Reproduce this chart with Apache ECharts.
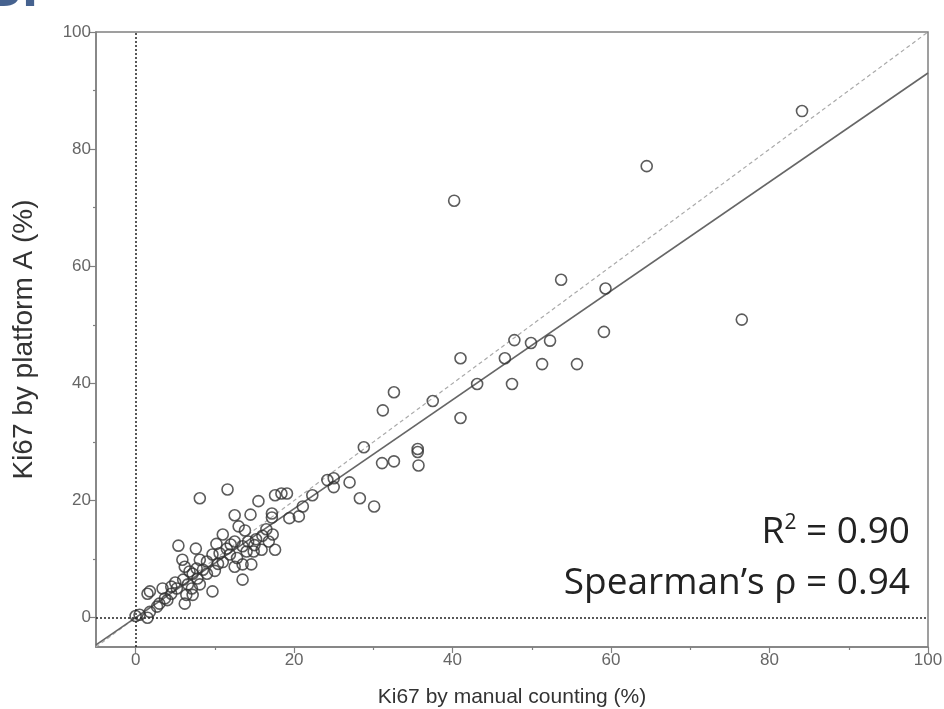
<!DOCTYPE html>
<html>
<head>
<meta charset="utf-8">
<script src="https://cdn.jsdelivr.net/npm/echarts@6/dist/echarts.min.js"></script>
<style>
html,body{margin:0;padding:0;background:#fff;}
#chart{width:944px;height:709px;}
</style>
</head>
<body>
<div id="chart"></div>
<script>
// Ki67 pairs: [manual counting %, platform A %]
var points = [
  [0,0.3],[0.5,0.5],[1.5,0],[1.8,1.0],[1.5,4.1],[1.8,4.5],[2.7,1.9],[3.0,2.4],[3.4,5.0],[3.7,3.3],
  [4.5,4.1],[4.5,5.3],[5.2,5.0],[5.4,12.3],[5.9,9.9],[6.2,2.4],[6.2,8.7],[6.4,3.9],[6.6,5.7],[6.8,7.9],
  [7.1,5.0],[7.2,3.9],[7.2,7.5],[7.6,11.8],[7.7,8.4],[7.8,6.7],[8.1,5.7],[8.1,9.9],[8.1,20.4],[9.0,9.6],
  [9.7,4.5],[9.7,10.8],[10.4,9.2],[10.6,11.0],[11.0,14.2],[11.5,11.8],[11.6,21.9],[11.9,10.8],[12.5,8.7],[12.5,13.0],
  [12.5,17.5],[13.5,9.1],[13.5,12.2],[13.5,6.5],[13.8,14.9],[14.0,11.3],[14.5,17.6],[14.6,9.1],[14.9,11.3],[15.2,13.4],
  [15.5,19.9],[15.9,11.6],[16.5,15.1],[17.2,17.8],[17.2,17.1],[17.3,14.2],[17.6,11.6],[17.6,20.9],[18.4,21.2],[19.1,21.2],
  [19.4,17.0],[20.6,17.3],[21.1,19.0],[22.3,20.9],[24.2,23.5],[25.0,23.8],[25.0,22.3],[27.0,23.1],[28.3,20.4],[28.8,29.1],
  [30.1,19.0],[31.1,26.4],[31.2,35.4],[32.6,26.7],[32.6,38.5],[35.6,28.8],[35.6,28.3],[35.7,26.0],[37.5,37.0],[40.2,71.2],
  [41.0,44.3],[41.0,34.1],[43.1,39.9],[46.6,44.3],[47.5,39.9],[47.8,47.4],[49.9,46.9],[51.3,43.3],[52.3,47.3],[53.7,57.7],
  [55.7,43.3],[59.1,48.8],[59.3,56.2],[64.5,77.1],[76.5,50.9],[84.1,86.5],
  [4.0,3.0],[5.0,6.0],[9.0,7.5],[10.0,8.0],[11.0,9.5],[8.5,8.2],[12.0,12.5],[14.2,13.0],[16.0,14.0],[6.0,6.5],
  [10.2,12.6],[13.0,15.6],[15.0,12.4],[16.8,13.0],[12.8,10.2]
];
var fitLine = [[-5,-4.65],[100,93]];
var identityLine = [[-5,-5],[100,100]];
var majorTicks = [0,20,40,60,80,100];
var minorTicks = [10,30,50,70,90];
var xName = 'Ki67 by manual counting (%)';
var yName = 'Ki67 by platform A (%)';
var statR2 = 'R{sup|2} = 0.90';
var statRho = 'Spearman’s ρ = 0.94';
var panelLetter = 'B.';

var chart = echarts.init(document.getElementById('chart'), null, {renderer:'canvas'});
var axisColor = '#808080';
var FONT = 'Liberation Sans';
var labelStyle = {color:'#666', fontSize:17, fontFamily:FONT};
function mainAxis(name, gap, rot, nameSize){
  return {
    type:'value', min:-5, max:100,
    name:name, nameLocation:'middle', nameGap:gap, nameRotate:rot, nameMoveOverlap:false,
    nameTextStyle:{color:'#333', fontSize:nameSize, fontFamily:FONT},
    axisLine:{show:true, onZero:false, lineStyle:{color:axisColor, width:1.5}},
    axisTick:{show:true, customValues:majorTicks, length:6, lineStyle:{color:axisColor, width:1.2}},
    axisLabel:{show:true, customValues:majorTicks, margin:5, ...labelStyle},
    splitLine:{show:false}
  };
}
function minorAxis(pos){
  return {
    type:'value', min:-5, max:100, position:pos,
    axisLine:{show:false, onZero:false},
    axisTick:{show:true, customValues:minorTicks, length:3, lineStyle:{color:axisColor, width:1.2}},
    axisLabel:{show:false},
    splitLine:{show:false}
  };
}
var option = {
  animation:false,
  backgroundColor:'#fff',
  textStyle:{fontFamily:FONT},
  grid:{left:96, right:16, top:32, bottom:62, show:true, borderColor:axisColor, borderWidth:1.5,
        containLabel:false, outerBoundsMode:'none'},
  xAxis:[mainAxis(xName, 40, 0, 21), minorAxis('bottom')],
  yAxis:[mainAxis(yName, 58, 90, 28), minorAxis('left')],
  graphic:{elements:[
    {type:'text', x:-20, y:-39, z:100, style:{text:panelLetter, font:'bold 58px Liberation Sans', fill:'#46628f'}},
    {type:'text', right:34, top:513, style:{
      text:statR2, align:'right',
      font:'37px Open Sans', fill:'#222',
      rich:{sup:{fontSize:21, verticalAlign:'top', padding:[0,0,17,0], fontFamily:'Open Sans', fill:'#222'}}
    }},
    {type:'text', right:34, top:565, style:{text:statRho, align:'right', font:'37px Open Sans', fill:'#222'}}
  ]},
  series:[
    {type:'line', data:identityLine, showSymbol:false, symbol:'none',
     lineStyle:{color:'#aaa', width:1.2, type:[4,3]}, silent:true, z:2},
    {type:'line', data:fitLine, showSymbol:false, symbol:'none',
     lineStyle:{color:'#666', width:1.6}, silent:true, z:3,
     markLine:{symbol:'none', silent:true, label:{show:false},
       lineStyle:{color:'#222', type:[2,2], width:1.5},
       data:[{xAxis:0},{yAxis:0}]}},
    {type:'scatter', data:points, symbol:'circle', symbolSize:11,
     itemStyle:{color:'rgba(255,255,255,0)', borderColor:'#333', borderWidth:1.6}, z:4}
  ]
};
chart.setOption(option);
</script>
</body>
</html>
